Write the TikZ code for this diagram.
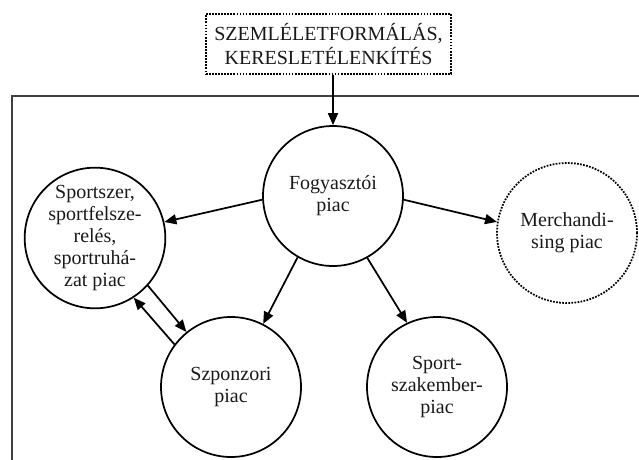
\documentclass[tikz,border=0pt]{standalone}
\usepackage{fontspec}
\setmainfont{Liberation Serif}
\usetikzlibrary{arrows.meta}
\begin{document}
\begin{tikzpicture}[x=0.75pt,y=-0.75pt,
		market/.style={draw,circle,line width=1.3pt,minimum size=105pt,inner sep=0pt,align=center,text=black!90,font=\fontsize{15}{16.5}\selectfont},
		flow/.style={line width=1.3pt,-{Triangle[length=9pt,width=7.5pt]}}]
		\useasboundingbox (0,0) rectangle (639,460);
		\clip (0,0) rectangle (639,460);
		%\draw[help lines] (0,0) grid (639,460);
		\draw [line width=1.4pt,black!75] (12,96) rectangle (700,520);
		\node [draw,densely dotted,line width=1.3pt,minimum width=184pt,minimum height=45pt,align=center,text=black!90,font=\fontsize{15}{18}\selectfont] (shaping) at (328.5,44) {SZEMLÉLETFORMÁLÁS,\\KERESLETÉLENKÍTÉS};
		\node [market] (consumer) at (333,196) {Fogyasztói\\piac};
		\node [market,densely dotted] (merch) at (567,233) {Merchandi-\\sing piac};
		\node [market] (experts) at (437,387) {Sport-\\szakember-\\piac};
		\node [market] (sponsor) at (231,387) {Szponzori\\piac};
		\node [market,minimum size=102pt] (equipment) at (95,238) {Sportszer,\\sportfelsze-\\relés,\\sportruhá-\\zat piac};
		\draw [flow] (shaping.south -| consumer.north) to (consumer.north);
		\draw [flow] (consumer.183) to (equipment.13);
		\draw [flow] (consumer.-3) to (merch.171);
		\draw [flow] (consumer.240) to (sponsor.63);
		\draw [flow] (consumer.299) to (experts.115);
		\draw [flow] (equipment.318) to (sponsor.129);
		\draw [flow] (sponsor.143) to (equipment.303);
	\end{tikzpicture}
\end{document}
